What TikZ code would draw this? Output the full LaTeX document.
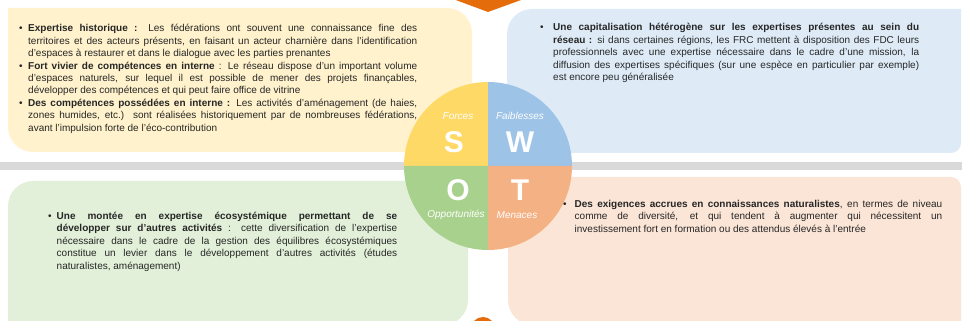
\documentclass[tikz,border=0pt]{standalone}
\usepackage{fontspec}
\setmainfont{Liberation Sans}
\usepackage{tikz}
\usetikzlibrary{positioning}
\definecolor{forceY}{HTML}{FFD966}
\definecolor{faibB}{HTML}{9DC3E6}
\definecolor{opporG}{HTML}{A9D18E}
\definecolor{menaceO}{HTML}{F4B183}
\definecolor{boxY}{HTML}{FFF2CC}
\definecolor{boxB}{HTML}{DEEBF7}
\definecolor{boxG}{HTML}{E2F0D9}
\definecolor{boxO}{HTML}{FBE5D6}
\definecolor{bandgray}{HTML}{D9D9D9}
\definecolor{arrowO}{HTML}{E46C0A}
\definecolor{txtgray}{HTML}{262626}
\newcommand\swotitem[1][9pt]{\par\noindent\hangindent=#1\hangafter=1\hbox to #1{\textbullet\hfil}}

\begin{document}
\begin{tikzpicture}[x=1pt, y=1pt,
    swottext/.style={anchor=base west, inner sep=0pt, align=justify, font=\fontsize{10}{12.4}\selectfont, text=txtgray},
    letter/.style={text=white, inner sep=0pt, font=\fontsize{30}{30}\selectfont\bfseries},
    caption/.style={text=white, inner sep=0pt, font=\fontsize{10}{12}\selectfont\itshape}]
            \useasboundingbox (0,0) rectangle (962,321);
            \fill[boxY] (8,313) -- (447,313) arc[start angle=90, end angle=0, radius=25] -- (472,169) -- (33,169) arc[start angle=270, end angle=180, radius=25] -- cycle;
            \fill[boxB] (532,312) -- (961,312) -- (961,178) arc[start angle=0, end angle=-90, radius=10] -- (507,168) -- (507,287) arc[start angle=180, end angle=90, radius=25] -- cycle;
            \fill[boxG] (33,140) -- (468,140) -- (468,21) arc[start angle=0, end angle=-90, radius=25] -- (8,-4) -- (8,115) arc[start angle=180, end angle=90, radius=25] -- cycle;
            \fill[boxO] (508,144) -- (951,144) arc[start angle=90, end angle=0, radius=10] -- (961,-4) -- (533,-4) arc[start angle=270, end angle=180, radius=25] -- cycle;
            \fill[bandgray] (0,151) rectangle (962,159);
            \coordinate (ctr) at (488,155);
            \foreach \a/\c in {90/forceY, 0/faibB, 180/opporG, 270/menaceO} {
                \fill[\c] (ctr) -- ++(\a:84) arc[start angle=\a, delta angle=90, radius=84] -- cycle;
            }
            \node[letter] (lS) at (454,179) {S};
            \node[letter] (lW) at (520,179) {W};
            \node[letter] (lO) at (458,131) {O};
            \node[letter] (lT) at (520,131) {T};
            \node[caption] (cS) at (458,205) {Forces};
            \node[caption] (cW) at (520,205) {Faiblesses};
            \node[caption] (cO) at (456,106) {Opportunités};
            \node[caption] (cT) at (517,106) {Menaces};
            \fill[arrowO] (445,325) -- (532,325) -- (488,309) -- cycle;
            \fill[arrowO] (483,-8) circle (12);
            \node[swottext, text width=398pt] (txtS) at (19,301.4) {%
                \swotitem\textbf{Expertise historique :} Les fédérations ont souvent une connaissance fine des\linebreak territoires et des acteurs présents, en faisant un acteur charnière dans l’identification\linebreak d’espaces à restaurer et dans le dialogue avec les parties prenantes
                \swotitem\textbf{Fort vivier de compétences en interne} : Le réseau dispose d’un important volume\linebreak d’espaces naturels, sur lequel il est possible de mener des projets finançables,\linebreak développer des compétences et qui peut faire office de vitrine
                \swotitem\textbf{Des compétences possédées en interne :} Les activités d’aménagement (de haies,\linebreak zones humides, etc.) sont réalisées historiquement par de nombreuses fédérations,\linebreak avant l’impulsion forte de l’éco-contribution\par};
            \node[swottext, text width=379pt] (txtW) at (540,302.4) {%
                \swotitem[13pt]\textbf{Une capitalisation hétérogène sur les expertises présentes au sein du\linebreak réseau :} si dans certaines régions, les FRC mettent à disposition des FDC leurs\linebreak professionnels avec une expertise nécessaire dans le cadre d’une mission, la\linebreak diffusion des expertises spécifiques (sur une espèce en particulier par exemple)\linebreak est encore peu généralisée\par};
            \node[swottext, text width=349pt] (txtO) at (48,113.9) {%
                \swotitem[8.5pt]\textbf{Une montée en expertise écosystémique permettant de se\linebreak développer sur d’autres activités} : cette diversification de l’expertise\linebreak nécessaire dans le cadre de la gestion des équilibres écosystémiques\linebreak constitue un levier dans le développement d’autres activités (études\linebreak naturalistes, aménagement)\par};
            \node[swottext, text width=379pt] (txtT) at (563,125.9) {%
                \swotitem[11.5pt]\textbf{Des exigences accrues en connaissances naturalistes}, en termes de niveau\linebreak comme de diversité, et qui tendent à augmenter qui nécessitent un\linebreak investissement fort en formation ou des attendus élevés à l’entrée\par};
        \end{tikzpicture}
\end{document}
